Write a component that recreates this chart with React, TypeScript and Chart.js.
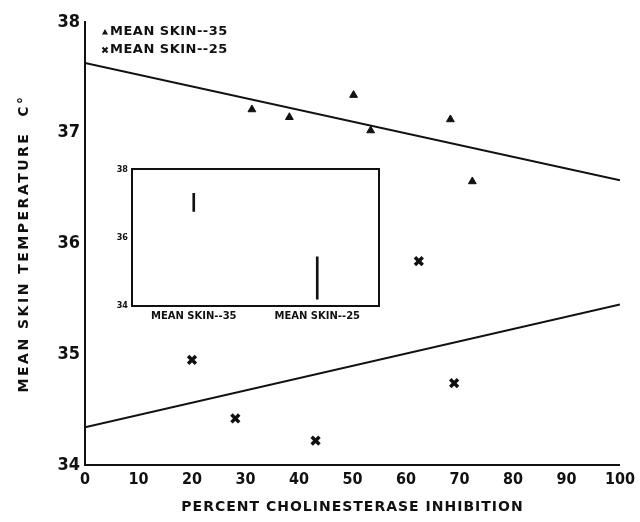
import React, { useEffect, useRef } from "react";
import { Chart, registerables } from "chart.js";

Chart.register(...registerables);

// ---- data ----
const xTickValues = [0, 10, 20, 30, 40, 50, 60, 70, 80, 90, 100];
const yTickValues = [34, 35, 36, 37, 38];

const skin35X = [31.2, 38.2, 50.2, 53.4, 68.3, 72.4];
const skin35Y = [37.21, 37.14, 37.34, 37.02, 37.12, 36.56];

const skin25X = [20.0, 28.1, 43.1, 62.4, 69.0];
const skin25Y = [34.95, 34.42, 34.22, 35.84, 34.74];

const fit35X = [0, 100];
const fit35Y = [37.63, 36.57];
const fit25X = [0, 100];
const fit25Y = [34.34, 35.45];

const legendLabels = ["MEAN SKIN--35", "MEAN SKIN--25"];

const insetCategories = ["MEAN SKIN--35", "MEAN SKIN--25"];
const insetLow = [36.77, 34.2];
const insetHigh = [37.3, 35.44];
const insetTickValues = [34, 36, 38];

const xTitle = "PERCENT CHOLINESTERASE INHIBITION";
const yTitle = "MEAN SKIN TEMPERATURE  C°";

const FONT_C = "'DejaVu Sans Condensed', 'DejaVu Sans', sans-serif";
const FONT = "'DejaVu Sans', sans-serif";
const INK = "#111";

const toPoints = (xs: number[], ys: number[]) => xs.map((x, i) => ({ x, y: ys[i] }));

// give a scale's title some letter spacing, like the typewriter lettering of the original
const spacedTitle = (spacing: string) => (s: any) => {
  if (s.__spaced) return;
  s.__spaced = true;
  const orig = s.drawTitle.bind(s);
  s.drawTitle = (...args: any[]) => {
    const ctx = s.ctx;
    const prev = ctx.letterSpacing;
    ctx.letterSpacing = spacing;
    orig(...args);
    ctx.letterSpacing = prev || "0px";
  };
};

const insideLegend = {
  id: "insideLegend",
  afterDraw(chart: any) {
    const { ctx, chartArea } = chart;
    const x0 = chartArea.left + 20;
    const y0 = chartArea.top + 10;
    ctx.save();
    ctx.fillStyle = INK;
    ctx.strokeStyle = INK;
    ctx.beginPath();
    ctx.moveTo(x0, y0 - 3);
    ctx.lineTo(x0 + 3, y0 + 2.5);
    ctx.lineTo(x0 - 3, y0 + 2.5);
    ctx.closePath();
    ctx.fill();
    const y1 = y0 + 18;
    ctx.lineWidth = 2;
    ctx.beginPath();
    ctx.moveTo(x0 - 2.5, y1 - 2.5);
    ctx.lineTo(x0 + 2.5, y1 + 2.5);
    ctx.moveTo(x0 + 2.5, y1 - 2.5);
    ctx.lineTo(x0 - 2.5, y1 + 2.5);
    ctx.stroke();
    ctx.font = `bold 13px ${FONT}`;
    ctx.letterSpacing = "0.5px";
    ctx.textBaseline = "middle";
    ctx.textAlign = "left";
    ctx.fillText(legendLabels[0], x0 + 5, y0);
    ctx.fillText(legendLabels[1], x0 + 5, y1);
    ctx.letterSpacing = "0px";
    ctx.restore();
  },
};

export default function App() {
  const mainRef = useRef<HTMLCanvasElement>(null);
  const insetRef = useRef<HTMLCanvasElement>(null);

  useEffect(() => {
    const main = new Chart(mainRef.current as HTMLCanvasElement, {
      type: "scatter",
      data: {
        datasets: [
          {
            label: legendLabels[0],
            data: toPoints(skin35X, skin35Y),
            pointStyle: "triangle",
            pointRadius: 4.5,
            backgroundColor: INK,
            borderColor: INK,
            borderWidth: 1,
          },
          {
            label: legendLabels[1],
            data: toPoints(skin25X, skin25Y),
            pointStyle: "crossRot",
            pointRadius: 5.5,
            backgroundColor: INK,
            borderColor: INK,
            borderWidth: 3.5,
          },
          {
            type: "line",
            label: "fit35",
            data: toPoints(fit35X, fit35Y),
            borderColor: INK,
            borderWidth: 2,
            pointRadius: 0,
            fill: false,
          },
          {
            type: "line",
            label: "fit25",
            data: toPoints(fit25X, fit25Y),
            borderColor: INK,
            borderWidth: 2,
            pointRadius: 0,
            fill: false,
          },
        ] as any,
      },
      options: {
        animation: false,
        responsive: true,
        maintainAspectRatio: false,
        layout: { padding: { left: 0, right: 19, top: 22, bottom: 0 } },
        plugins: { legend: { display: false }, tooltip: { enabled: false } },
        scales: {
          x: {
            type: "linear",
            min: 0,
            max: 100,
            afterBuildTicks: (s: any) => {
              s.ticks = xTickValues.map((v) => ({ value: v }));
            },
            afterFit: (s: any) => {
              s.height = 57;
              spacedTitle("1px")(s);
            },
            grid: { display: false, drawTicks: false },
            border: { display: true, color: INK, width: 2 },
            ticks: {
              color: INK,
              padding: 5,
              autoSkip: false,
              maxRotation: 0,
              font: { family: FONT_C, size: 16, weight: "bold" },
            },
            title: {
              display: true,
              text: xTitle,
              color: INK,
              font: { family: FONT, size: 14, weight: "bold" },
              padding: { top: 0, bottom: 6 },
            },
          },
          y: {
            type: "linear",
            min: 34,
            max: 38,
            afterBuildTicks: (s: any) => {
              s.ticks = yTickValues.map((v) => ({ value: v }));
            },
            afterFit: (s: any) => {
              s.width = 85;
              spacedTitle("2.5px")(s);
            },
            grid: { display: false, drawTicks: false },
            border: { display: true, color: INK, width: 2 },
            ticks: {
              color: INK,
              padding: 5,
              font: { family: FONT_C, size: 18, weight: "bold" },
            },
            title: {
              display: true,
              text: yTitle,
              color: INK,
              font: { family: FONT, size: 14, weight: "bold" },
              padding: { top: 16, bottom: 0 },
            },
          },
        },
      } as any,
      plugins: [insideLegend],
    });

    const inset = new Chart(insetRef.current as HTMLCanvasElement, {
      type: "bar",
      data: {
        labels: insetCategories,
        datasets: [
          {
            label: "range",
            data: insetLow.map((l, i) => [l, insetHigh[i]]),
            backgroundColor: INK,
            barThickness: 2,
          },
        ],
      },
      options: {
        animation: false,
        responsive: true,
        maintainAspectRatio: false,
        layout: { padding: { left: 0, right: 11, top: 9, bottom: 0 } },
        plugins: { legend: { display: false }, tooltip: { enabled: false } },
        scales: {
          x: {
            grid: { display: false, drawTicks: false },
            border: { display: true, color: INK, width: 2 },
            ticks: { color: INK, padding: 4, font: { family: FONT, size: 10, weight: "bold" } },
            afterFit: (s: any) => {
              s.height = 19;
            },
          },
          y: {
            min: 34,
            max: 38,
            afterBuildTicks: (s: any) => {
              s.ticks = insetTickValues.map((v) => ({ value: v }));
            },
            grid: { display: false, drawTicks: false },
            border: { display: true, color: INK, width: 2 },
            ticks: { color: INK, padding: 4, font: { family: FONT_C, size: 9, weight: "bold" } },
            afterFit: (s: any) => {
              s.width = 32;
            },
          },
          x2: {
            type: "category",
            position: "top",
            display: true,
            grid: { display: false, drawTicks: false },
            ticks: { display: false },
            border: { display: true, color: INK, width: 2 },
            afterFit: (s: any) => {
              s.height = 0;
            },
          },
          y2: {
            type: "linear",
            position: "right",
            min: 34,
            max: 38,
            display: true,
            grid: { display: false, drawTicks: false },
            ticks: { display: false },
            border: { display: true, color: INK, width: 2 },
            afterFit: (s: any) => {
              s.width = 0;
            },
          },
        },
      } as any,
    });

    return () => {
      main.destroy();
      inset.destroy();
    };
  }, []);

  return (
    <div
      style={{
        position: "fixed",
        left: 0,
        top: 0,
        width: 640,
        height: 522,
        background: "#fff",
      }}
    >
      <div style={{ position: "absolute", left: 0, top: 0, width: 640, height: 522 }}>
        <canvas ref={mainRef} />
      </div>
      <div style={{ position: "absolute", left: 100, top: 160, width: 290, height: 165 }}>
        <canvas ref={insetRef} />
      </div>
    </div>
  );
}
